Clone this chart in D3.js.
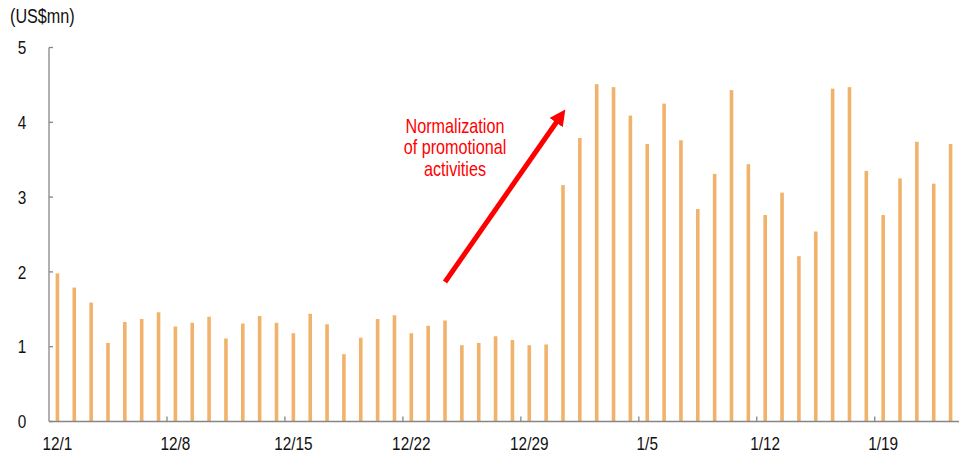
<!DOCTYPE html>
<html>
<head>
<meta charset="utf-8">
<script src="https://cdn.jsdelivr.net/npm/d3@7"></script>
<style>
  html, body { margin: 0; padding: 0; background: #fff; }
  svg text { font-family: "Liberation Sans Narrow", "Arial Narrow", "Liberation Sans", Arial, sans-serif; }
</style>
</head>
<body>
<svg id="chart" width="968" height="460"></svg>
<script>
// Daily sales, 1 Dec – 23 Jan (US$ mn)
const dates = [
  "12/1","12/2","12/3","12/4","12/5","12/6","12/7","12/8","12/9","12/10",
  "12/11","12/12","12/13","12/14","12/15","12/16","12/17","12/18","12/19","12/20",
  "12/21","12/22","12/23","12/24","12/25","12/26","12/27","12/28","12/29","12/30",
  "12/31","1/1","1/2","1/3","1/4","1/5","1/6","1/7","1/8","1/9",
  "1/10","1/11","1/12","1/13","1/14","1/15","1/16","1/17","1/18","1/19",
  "1/20","1/21","1/22","1/23"
];
const sales = [
  1.98, 1.79, 1.59, 1.05, 1.33, 1.37, 1.46, 1.27, 1.32, 1.40,
  1.11, 1.31, 1.41, 1.32, 1.18, 1.44, 1.30, 0.90, 1.12, 1.37,
  1.42, 1.18, 1.28, 1.35, 1.02, 1.05, 1.14, 1.09, 1.02, 1.03,
  3.16, 3.79, 4.51, 4.47, 4.09, 3.71, 4.25, 3.76, 2.84, 3.31,
  4.43, 3.44, 2.76, 3.06, 2.21, 2.54, 4.45, 4.47, 3.35, 2.76,
  3.25, 3.74, 3.18, 3.71
];
const xTickLabels = ["12/1","12/8","12/15","12/22","12/29","1/5","1/12","1/19"];
const yTicks = [0, 1, 2, 3, 4, 5];
const unitLabel = "(US$mn)";
const noteLines = ["Normalization", "of promotional", "activities"];

const svg = d3.select("#chart");
const plot = { left: 49, right: 959, top: 47.5, bottom: 421.5 };
const axisColor = "#868686";
const barColor = "#F1B26C";
const squeeze = 0.83; // condensed lettering

const x = d3.scaleBand().domain(dates).range([plot.left, plot.right]).padding(0);
const y = d3.scaleLinear().domain([0, 5]).range([plot.bottom, plot.top]);

// place a condensed text element at (px, py)
const at = (px, py) => `translate(${px},${py}) scale(${squeeze},1)`;

// Bars
const barW = 3.6;
svg.append("g").selectAll("rect")
  .data(sales)
  .join("rect")
  .attr("x", (d, i) => x(dates[i]) + x.bandwidth() / 2 - barW / 2)
  .attr("width", barW)
  .attr("y", d => y(d))
  .attr("height", d => y(0) - y(d))
  .attr("fill", barColor);

// Y axis: inward ticks, labels on the left
const yAxis = svg.append("g").attr("transform", `translate(${plot.left},0)`);
yAxis.append("line")
  .attr("x1", 0).attr("x2", 0).attr("y1", y(5)).attr("y2", y(0))
  .attr("stroke", axisColor).attr("stroke-width", 1.3);
yAxis.selectAll("line.tick")
  .data(yTicks)
  .join("line")
  .attr("class", "tick")
  .attr("x1", 0).attr("x2", 4)
  .attr("y1", d => y(d)).attr("y2", d => y(d))
  .attr("stroke", axisColor).attr("stroke-width", 1.3);
yAxis.selectAll("text")
  .data(yTicks)
  .join("text")
  .attr("transform", d => at(-27, y(d)))
  .attr("dy", "0.36em")
  .attr("text-anchor", "middle")
  .attr("font-size", 18.5)
  .attr("fill", "#111")
  .text(d => d);

// X axis: baseline, upward ticks every 7 days between categories
const xAxis = svg.append("g");
xAxis.append("line")
  .attr("x1", plot.left).attr("x2", plot.right).attr("y1", y(0)).attr("y2", y(0))
  .attr("stroke", axisColor).attr("stroke-width", 1.5);
const tickIdx = dates.map((d, i) => i).filter(i => i % 7 === 0 && i > 0);
xAxis.selectAll("line.tick")
  .data(tickIdx)
  .join("line")
  .attr("class", "tick")
  .attr("x1", i => x(dates[i])).attr("x2", i => x(dates[i]))
  .attr("y1", y(0)).attr("y2", y(0) - 5)
  .attr("stroke", axisColor).attr("stroke-width", 1.3);
xAxis.selectAll("text")
  .data(xTickLabels)
  .join("text")
  .attr("transform", d => at(x(d) + x.bandwidth() / 2, 450))
  .attr("text-anchor", "middle")
  .attr("font-size", 18.5)
  .attr("fill", "#111")
  .text(d => d);

// Unit label
svg.append("text")
  .attr("transform", at(10, 23))
  .attr("font-size", 19.5)
  .attr("fill", "#111")
  .text(unitLabel);

// Annotation arrow
const defs = svg.append("defs");
defs.append("marker")
  .attr("id", "head")
  .attr("viewBox", "0 0 10 10")
  .attr("refX", 2).attr("refY", 5)
  .attr("markerUnits", "userSpaceOnUse")
  .attr("markerWidth", 16).attr("markerHeight", 16)
  .attr("orient", "auto")
  .append("path")
  .attr("d", "M0,0 L10,5 L0,10 Z")
  .attr("fill", "#FF0000");

svg.append("line")
  .attr("x1", 445).attr("y1", 282)
  .attr("x2", 558).attr("y2", 120)
  .attr("stroke", "#FF0000")
  .attr("stroke-width", 5)
  .attr("marker-end", "url(#head)");

svg.append("text")
  .attr("transform", at(455, 133))
  .attr("text-anchor", "middle")
  .attr("font-size", 19.5)
  .attr("fill", "#FF0000")
  .selectAll("tspan")
  .data(noteLines)
  .join("tspan")
  .attr("x", 0)
  .attr("dy", (d, i) => i === 0 ? 0 : 21.5)
  .text(d => d);
</script>
</body>
</html>
